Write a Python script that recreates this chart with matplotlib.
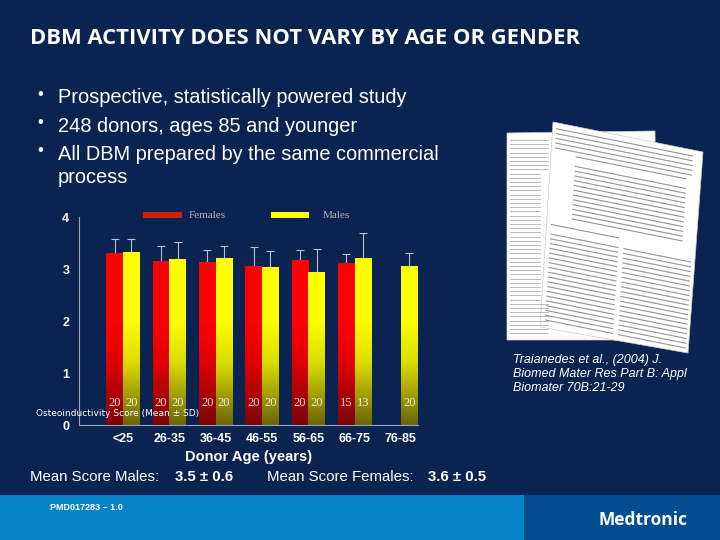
import numpy as np
import matplotlib
matplotlib.use("Agg")
import matplotlib.pyplot as plt
from matplotlib.patches import Rectangle, Polygon
from matplotlib.colors import LinearSegmentedColormap

# ---------------- data ----------------
categories = ["<25", "26-35", "36-45", "46-55", "56-65", "66-75", "76-85"]
females = [3.30, 3.15, 3.14, 3.06, 3.17, 3.11, np.nan]
females_sd = [0.27, 0.29, 0.22, 0.36, 0.19, 0.17, np.nan]
males = [3.33, 3.19, 3.22, 3.04, 2.94, 3.22, 3.06]
males_sd = [0.24, 0.32, 0.22, 0.31, 0.44, 0.47, 0.25]
n_females = ["20", "20", "20", "20", "20", "15", ""]
n_males = ["20", "20", "20", "20", "20", "13", "20"]
yticks = [0, 1, 2, 3, 4]

title = "DBM ACTIVITY DOES NOT VARY BY AGE OR GENDER"
bullets = ["Prospective, statistically powered study",
           "248 donors, ages 85 and younger",
           "All DBM prepared by the same commercial\nprocess"]
citation = ["Traianedes et al., (2004) J.",
            "Biomed Mater Res Part B: Appl",
            "Biomater 70B:21-29"]

BG = "#0b2350"
W, H = 720, 540
fig = plt.figure(figsize=(7.2, 5.4), dpi=100)
fig.patch.set_facecolor(BG)

# background / decoration axes in pixel coordinates
bg = fig.add_axes([0, 0, 1, 1])
bg.set_xlim(0, W)
bg.set_ylim(H, 0)
bg.axis("off")
bg.set_zorder(0)

# footer
bg.add_patch(Rectangle((0, 495), 524, 45, color="#0783c9", lw=0))
bg.add_patch(Rectangle((524, 495), 196, 45, color="#024d8f", lw=0))
bg.text(50, 508, "PMD017283 \u2013 1.0", color="white", fontsize=6.5,
        fontweight="bold", family="Liberation Sans", va="center")
bg.text(598, 520, "Medtronic", color="white", fontsize=12.5,
        fontweight="bold", family="Open Sans", va="center")

# title
bg.text(30, 38, title, color="white", fontsize=15.8, fontweight="bold",
        family="Open Sans", va="center")

# bullets
ys = [97, 126, 154]
for y, b in zip(ys, bullets):
    bg.text(37, y - 3, "\u2022", color="white", fontsize=12, va="center",
            family="Liberation Sans")
    bg.text(58, y - 9, b, color="white", fontsize=14.4, va="top",
            family="Liberation Sans", linespacing=1.25)

# paper images
back = Polygon([(507, 133), (655, 131), (657, 340), (507, 340)],
               closed=True, fc="white", ec="#cccccc", lw=0.5)
bg.add_patch(back)
for k in range(48):
    y = 140 + k * 4.2
    if y > 336:
        break
    bg.plot([510, 540 if 170 < y < 300 else 548], [y, y], color="#9a9a9a",
            lw=0.6, alpha=0.8)
front = Polygon([(553, 122), (703, 152), (688, 353), (540, 327)],
                closed=True, fc="white", ec="#cccccc", lw=0.5)
bg.add_patch(front)
p0 = np.array([553, 122.0]); ex = np.array([150, 30.0]) / 150; ey = np.array([-13, 205.0]) / 206
for k in range(42):
    t = 6 + k * 4.8
    if t > 200:
        break
    if 30 < t < 36 or 95 < t < 100 or 105 < t < 110:
        continue
    if t < 30:
        a, b2 = 4, 140
    elif t < 100:
        a, b2 = 25, 135
    else:
        a, b2 = 5, 72
    s = p0 + ey * t + ex * a
    e = p0 + ey * t + ex * b2
    bg.plot([s[0], e[0]], [s[1], e[1]], color="#7a7a7a", lw=0.8, alpha=0.8)
    if t >= 110:
        s = p0 + ey * t + ex * 78
        e = p0 + ey * t + ex * 145
        bg.plot([s[0], e[0]], [s[1], e[1]], color="#7a7a7a", lw=0.8, alpha=0.8)

for i, c in enumerate(citation):
    bg.text(513, 360 + 14 * i, c, color="white", fontsize=9, style="italic",
            family="Liberation Sans", va="center")

# mean scores
bg.text(30, 477, "Mean Score Males:", color="white", fontsize=10.8,
        family="Liberation Sans", va="center")
bg.text(175, 477, "3.5 \u00b1 0.6", color="white", fontsize=10.8,
        fontweight="bold", family="Liberation Sans", va="center")
bg.text(267, 477, "Mean Score Females:", color="white", fontsize=10.8,
        family="Liberation Sans", va="center")
bg.text(428, 477, "3.6 \u00b1 0.5", color="white", fontsize=10.8,
        fontweight="bold", family="Liberation Sans", va="center")

# ---------------- chart ----------------
ax_left, ax_right = 79, 418
ax_top, ax_bot = 217, 425
ax = fig.add_axes([ax_left / W, 1 - ax_bot / H, (ax_right - ax_left) / W,
                   (ax_bot - ax_top) / H])
ax.set_facecolor("none")
ax.set_zorder(1)
x = np.arange(len(categories))
bw = 0.36
ax.set_xlim(-0.95, 6.37)
ax.set_ylim(0, 4)

red_cmap = LinearSegmentedColormap.from_list(
    "r", [(0, "#780606"), (0.3, "#e00000"), (0.5, "#ff0000"), (1, "#ff0000")])
yel_cmap = LinearSegmentedColormap.from_list(
    "y", [(0, "#6b6508"), (0.3, "#dcdc00"), (0.5, "#ffff00"), (1, "#ffff00")])
grad = np.linspace(0, 1, 256).reshape(-1, 1)


def gbar(xc, h, cmap):
    if np.isnan(h):
        return
    r = Rectangle((xc - bw / 2, 0), bw, h, fc="none", ec="none")
    ax.add_patch(r)
    im = ax.imshow(grad, extent=[xc - bw / 2, xc + bw / 2, 0, 4],
                   origin="lower", cmap=cmap, aspect="auto", zorder=2)
    im.set_clip_path(r)


for i in range(len(categories)):
    gbar(x[i] - bw / 2, females[i], red_cmap)
    gbar(x[i] + bw / 2, males[i], yel_cmap)

fv = np.array(females); fs = np.array(females_sd)
mv = np.array(males); ms = np.array(males_sd)
ecol = "#b8c0d0"
ax.errorbar(x - bw / 2, fv, yerr=[np.zeros_like(fs), fs], fmt="none",
            ecolor=ecol, elinewidth=0.8, capsize=3, capthick=0.8, zorder=1)
ax.errorbar(x + bw / 2, mv, yerr=[np.zeros_like(ms), ms], fmt="none",
            ecolor=ecol, elinewidth=0.8, capsize=3, capthick=0.8, zorder=1)

for i in range(len(categories)):
    ax.text(x[i] - bw / 2, 0.42, n_females[i], color="#f0dcdc", fontsize=9,
            family="Liberation Serif", ha="center", va="center", zorder=3)
    ax.text(x[i] + bw / 2, 0.42, n_males[i], color="#f0f0e0", fontsize=9,
            family="Liberation Serif", ha="center", va="center", zorder=3)

ax.set_xticks(x)
ax.set_xticklabels(categories, color="white", fontsize=9, fontweight="bold",
                   family="Liberation Sans")
ax.set_yticks(yticks)
ax.set_yticklabels([str(v) for v in yticks], color="white", fontsize=9,
                   fontweight="bold", family="Liberation Sans")
ax.tick_params(axis="both", length=0, pad=6)
ax.tick_params(axis="y", pad=7)
for s in ["top", "right"]:
    ax.spines[s].set_visible(False)
for s in ["left", "bottom"]:
    ax.spines[s].set_color("#9aa4b8")
    ax.spines[s].set_linewidth(0.8)
ax.set_xlabel("Donor Age (years)", color="white", fontsize=10.5,
              fontweight="bold", family="Liberation Sans", labelpad=3)

# y-axis label (rendered horizontally, on top of the bars, in the original)
fig.text(36 / W, 1 - 414 / H, "Osteoinductivity Score (Mean \u00b1 SD)",
         color="white", fontsize=6.5, family="DejaVu Sans", va="center",
         zorder=5)

# legend
bg.add_patch(Rectangle((143, 212), 39, 6, color="#cc2200", lw=0))
bg.text(189, 215, "Females", color="#b0b0c0", fontsize=8,
        family="Liberation Serif", va="center")
bg.add_patch(Rectangle((271, 212), 38, 6, color="#ffff00", lw=0))
bg.text(323, 215, "Males", color="#b0b0c0", fontsize=8,
        family="Liberation Serif", va="center")

fig.savefig("out.png", dpi=100, facecolor=BG)
